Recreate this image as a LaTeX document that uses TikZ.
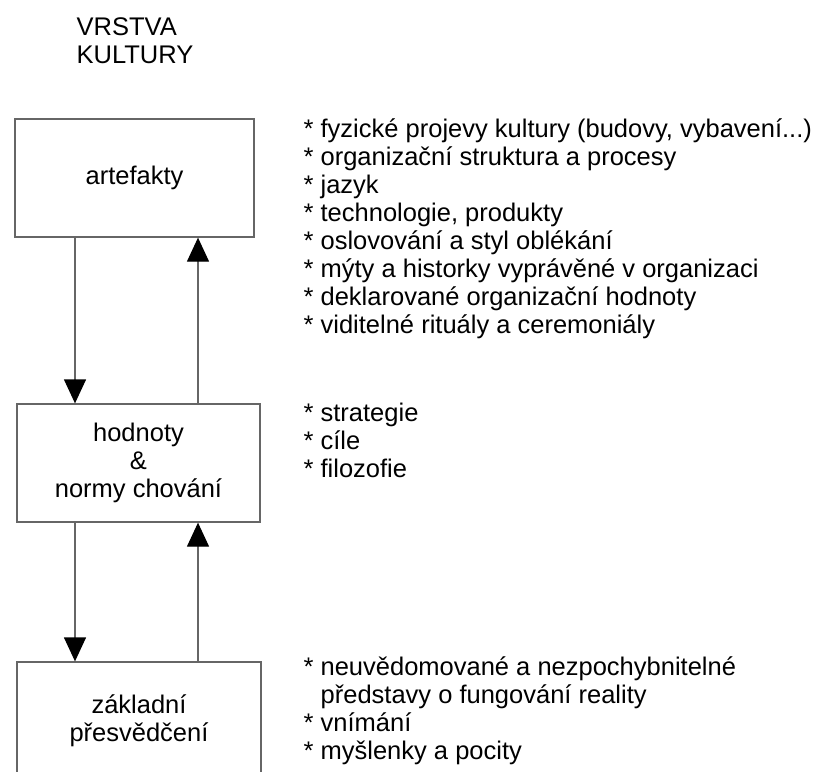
\documentclass[tikz,border=0pt]{standalone}
\usepackage{fontspec}
\setmainfont{Liberation Sans}
\usetikzlibrary{arrows.meta,positioning}

\begin{document}
\begin{tikzpicture}
[x=1pt, y=-1pt, draw=black!60, line width=1.3pt,
>={Triangle[length=24pt,width=22pt,color=black]},
layer/.style={rectangle, draw, inner sep=0pt, align=center, text=black,
  font=\fontsize{25.5}{28}\selectfont, minimum height=118pt},
items/.style={anchor=base west, inner sep=0pt, align=left, text=black,
  font=\fontsize{25.5}{28}\selectfont}]

\useasboundingbox (0,0) rectangle (827,771);
\clip (0,0) rectangle (827,771);

% base = last line
\node[items] (title) at (76,63) {VRSTVA\\KULTURY};

\node[layer, minimum width=239pt] (artefakty) at (134.5,178) {artefakty};
\node[layer, minimum width=243pt] (hodnoty) at (138.5,463) {hodnoty\\\&\\normy chování};
\node[layer, minimum width=244pt] (zaklad) at (139,721) {základní\\přesvědčení};

\draw[->] ([xshift=-59.5pt]artefakty.south) -- ([xshift=-63.5pt]hodnoty.north);
\draw[->] ([xshift=59.5pt]hodnoty.north) -- ([xshift=63.5pt]artefakty.south);
\draw[->] ([xshift=-63.5pt]hodnoty.south) -- ([xshift=-64pt]zaklad.north);
\draw[->] ([xshift=59pt]zaklad.north) -- ([xshift=59.5pt]hodnoty.south);

\node[items] (list1) at (303,333) {* fyzické projevy kultury (budovy, vybavení...)\\
* organizační struktura a procesy\\
* jazyk\\
* technologie, produkty\\
* oslovování a styl oblékání\\
* mýty a historky vyprávěné v organizaci\\
* deklarované organizační hodnoty\\
* viditelné rituály a ceremoniály};

\node[items] (list2) at (303,477) {* strategie\\
* cíle\\
* filozofie};

\node[items] (list3) at (303,759) {* neuvědomované a nezpochybnitelné\\
\hphantom{* }představy o fungování reality\\
* vnímání\\
* myšlenky a pocity};

\end{tikzpicture}
\end{document}
